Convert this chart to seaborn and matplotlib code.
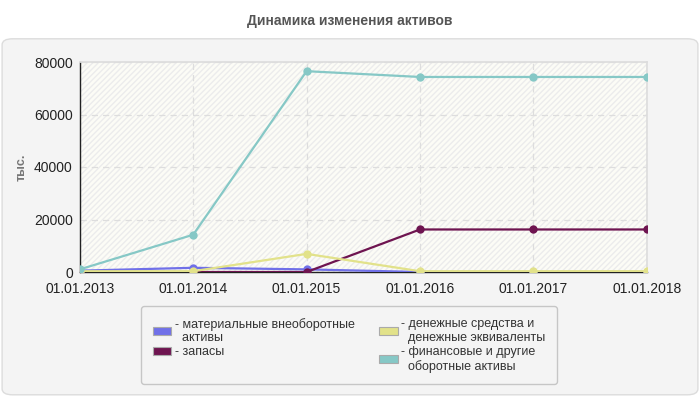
#!/usr/bin/env python3
"""Динамика изменения активов: line chart with markers, 2013-2018."""

import pandas as pd
import matplotlib
matplotlib.use("Agg")
import matplotlib.pyplot as plt
import seaborn as sns
from matplotlib.patches import FancyBboxPatch, Patch

dates = ["01.01.2013", "01.01.2014", "01.01.2015", "01.01.2016", "01.01.2017", "01.01.2018"]
series_names = [
    "материальные внеоборотные активы",
    "запасы",
    "денежные средства и денежные эквиваленты",
    "финансовые и другие оборотные активы",
]
tangible = [500, 1600, 1000, 0, 0, 0]
inventory = [0, 0, 0, 16200, 16200, 16200]
cash = [300, 300, 6900, 300, 300, 300]
financial = [1000, 14200, 76500, 74300, 74300, 74300]

legend_labels = [
    "- материальные внеоборотные\n  активы",
    "- запасы",
    "- денежные средства и\n  денежные эквиваленты",
    "- финансовые и другие\n  оборотные активы",
]
colors = ["#7070e8", "#6e1450", "#e2e28a", "#86c8c6"]

df = pd.DataFrame({
    "date": dates * 4,
    "x": list(range(len(dates))) * 4,
    "value": tangible + inventory + cash + financial,
    "series": sum([[s] * len(dates) for s in series_names], []),
})


def create_figure():
    sns.set_theme(style="white")
    plt.rcParams["font.family"] = ["Liberation Sans", "DejaVu Sans"]

    fig = plt.figure(figsize=(7, 4), dpi=100, facecolor="white")
    panel = FancyBboxPatch(
        (0.003, 0.013), 0.994, 0.89,
        boxstyle="round,pad=0,rounding_size=0.015",
        transform=fig.transFigure, facecolor="#f4f4f4",
        edgecolor="#dcdcdc", linewidth=1, zorder=-10,
    )
    fig.patches.append(panel)
    fig.text(0.5, 0.948, "Динамика изменения активов", ha="center", va="center",
             fontsize=10, fontweight="bold", color="#555555")

    ax = fig.add_axes([0.114, 0.32, 0.81, 0.525])
    ax.set_facecolor("#fcfcf6")
    ax.fill_between([0, 5], 0, 80000, facecolor="none", edgecolor="#ececec",
                    hatch="//////", linewidth=0, zorder=0)

    palette = dict(zip(series_names, colors))
    sns.lineplot(data=df, x="x", y="value", hue="series", hue_order=series_names,
                 palette=palette, marker="o", markersize=6, markeredgewidth=0,
                 linewidth=1.6, legend=False, ax=ax, zorder=3)

    ax.set_xlim(0, 5)
    ax.set_ylim(0, 80000)
    ax.set_xticks(range(len(dates)))
    ax.set_xticklabels(dates)
    ax.set_yticks([0, 20000, 40000, 60000, 80000])
    ax.tick_params(axis="both", labelsize=10, colors="#222222", length=3,
                   direction="out", pad=2)
    ax.tick_params(axis="x", pad=4)
    ax.set_xlabel("")
    ax.set_ylabel("тыс.", fontsize=9, color="#777777", fontweight="bold")
    ax.yaxis.set_label_coords(-0.092, 0.5)
    ax.grid(True, color="#dddddd", linestyle=(0, (5, 4)), linewidth=0.9)
    for side in ["top", "right"]:
        ax.spines[side].set_color("#dddddd")
    for side in ["left", "bottom"]:
        ax.spines[side].set_color("#222222")
        ax.spines[side].set_linewidth(1)

    handles = [Patch(facecolor=c, edgecolor="#aaaaaa", linewidth=0.8) for c in colors]
    leg = fig.legend(handles, legend_labels, loc="center",
                     bbox_to_anchor=(135 / 700, 0.137, 428 / 700, 0.0),
                     mode="expand", ncol=2, fontsize=9, frameon=True,
                     handlelength=1.5, handleheight=0.6, handletextpad=0.3,
                     labelspacing=0.15, borderpad=0.9, fancybox=True)
    leg.get_frame().set_facecolor("#f4f4f4")
    leg.get_frame().set_edgecolor("#bbbbbb")
    for t in leg.get_texts():
        t.set_color("#333333")
    return fig


def main():
    fig = create_figure()
    fig.savefig("out.png", dpi=100, facecolor="white")
    plt.close(fig)


if __name__ == "__main__":
    main()
